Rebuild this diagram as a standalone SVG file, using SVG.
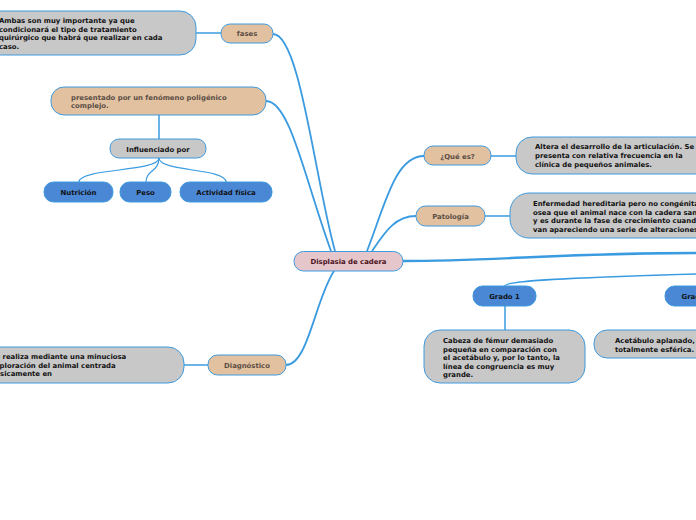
<svg xmlns="http://www.w3.org/2000/svg" width="696" height="520" viewBox="0 0 696 520">
<style>
text{font-family:"DejaVu Sans","Verdana",sans-serif;font-weight:bold;font-size:6.9px}
.n rect{stroke:#3d9ae0;stroke-width:1}
.tan rect{fill:#e2c1a1}
.gray rect{fill:#c8c8c8}
.blue rect{fill:#4a87d5}
.tan text{fill:#5a4d44}
.gray text,.blue text{fill:#111}
.c{text-anchor:middle}
#connectors path{fill:none;stroke:#3a9be0}
</style>
<rect width="696" height="520" fill="#fff"/>
<g id="connectors">
<path d="M403,261 C500,261 560,253 696,253" stroke-width="2.4"/>
<path d="M505,286 C505,281 560,278 696,274" stroke-width="1.6"/>
<path d="M273,34 C300,34 315,180 335,251" stroke-width="1.8"/>
<path d="M266,101 C290,101 305,180 331,251" stroke-width="1.8"/>
<path d="M424,156 C395,156 385,205 367,251" stroke-width="1.8"/>
<path d="M416,216 C395,216 385,232 372,251" stroke-width="1.8"/>
<path d="M286,365 C308,365 315,300 334,271" stroke-width="1.8"/>
<path d="M196,33 H221" stroke-width="1.5"/>
<path d="M159,115 V139" stroke-width="1.5"/>
<path d="M159,158 C159,172 79,168 79,182" stroke-width="1.2"/>
<path d="M159,158 C159,172 146,170 146,182" stroke-width="1.2"/>
<path d="M159,158 C159,172 226,168 226,182" stroke-width="1.2"/>
<path d="M491,156 H516" stroke-width="1.5"/>
<path d="M485,216 H510" stroke-width="1.5"/>
<path d="M505,306 V330" stroke-width="1.5"/>
<path d="M184,365 H208" stroke-width="1.5"/>
</g>
<g id="center" class="n"><rect x="294" y="251.5" width="109" height="19.5" rx="9.5" fill="#e5c6cb"/><text class="c" x="348.5" y="264" fill="#4b1020">Displasia de cadera</text></g>
<g id="fases" class="n tan"><rect x="221" y="24" width="52" height="19" rx="9"/><text class="c" x="247" y="36">fases</text></g>
<g id="ambas" class="n gray"><rect x="-30" y="11" width="226" height="44" rx="16"/><text x="-1" y="22.5">Ambas son muy importante ya que</text><text x="-1" y="31.5">condicionará el tipo de tratamiento</text><text x="-1" y="40">quirúrgico que habrá que realizar en cada</text><text x="-1" y="49">caso.</text></g>
<g id="presentado" class="n tan"><rect x="51" y="87" width="215" height="28" rx="13"/><text x="71" y="99.5">presentado por un fenómeno poligénico</text><text x="71" y="107.5">complejo.</text></g>
<g id="influenciado" class="n gray"><rect x="110" y="139" width="96" height="19" rx="9"/><text class="c" x="158" y="151.5">Influenciado por</text></g>
<g id="nutricion" class="n blue"><rect x="44" y="182" width="69" height="20" rx="9.5"/><text class="c" x="78.5" y="194.5">Nutrición</text></g>
<g id="peso" class="n blue"><rect x="120" y="182" width="51" height="20" rx="9.5"/><text class="c" x="145.5" y="194.5">Peso</text></g>
<g id="actividad" class="n blue"><rect x="180" y="182" width="92" height="20" rx="9.5"/><text class="c" x="226" y="194.5">Actividad física</text></g>
<g id="quees" class="n tan"><rect x="424" y="146" width="67" height="19" rx="9"/><text class="c" x="457.5" y="158.5">¿Qué es?</text></g>
<g id="quees-box" class="n gray"><rect x="516" y="137" width="210" height="37" rx="16"/><text x="535" y="149">Altera el desarrollo de la articulación. Se</text><text x="535" y="158">presenta con relativa frecuencia en la</text><text x="535" y="166.5">clínica de pequeños animales.</text></g>
<g id="patologia" class="n tan"><rect x="416" y="206" width="69" height="20" rx="9.5"/><text class="c" x="450.5" y="219">Patología</text></g>
<g id="patologia-box" class="n gray"><rect x="510" y="193" width="220" height="45" rx="19"/><text x="533" y="206">Enfermedad hereditaria pero no congénita,</text><text x="533" y="214.5">osea que el animal nace con la cadera sana</text><text x="533" y="223">y es durante la fase de crecimiento cuando</text><text x="533" y="231.5">van apareciendo una serie de alteraciones.</text></g>
<g id="grado1" class="n blue"><rect x="473" y="286" width="63" height="20" rx="9.5"/><text class="c" x="504.5" y="298.5">Grado 1</text></g>
<g id="grado2" class="n blue"><rect x="665" y="286" width="63" height="20" rx="9.5"/><text x="681.5" y="298.5">Grado 2</text></g>
<g id="cabeza" class="n gray"><rect x="424" y="330" width="161" height="53" rx="16"/><text x="443" y="343">Cabeza de fémur demasiado</text><text x="443" y="351.5">pequeña en comparación con</text><text x="443" y="360">el acetábulo y, por lo tanto, la</text><text x="443" y="368.5">línea de congruencia es muy</text><text x="443" y="377">grande.</text></g>
<g id="acetabulo" class="n gray"><rect x="594" y="330" width="130" height="28" rx="13"/><text x="615" y="343">Acetábulo aplanado,</text><text x="615" y="351.5">totalmente esférica.</text></g>
<g id="diagnostico" class="n tan"><rect x="208" y="355" width="78" height="20" rx="9.5"/><text class="c" x="247" y="368">Diagnóstico</text></g>
<g id="diagnostico-box" class="n gray"><rect x="-30" y="347" width="214" height="36" rx="16"/><text x="-9.5" y="358.5">Se realiza mediante una minuciosa</text><text x="-9.5" y="367.5">exploración del animal centrada</text><text x="-9.5" y="376">básicamente en</text></g>
</svg>
